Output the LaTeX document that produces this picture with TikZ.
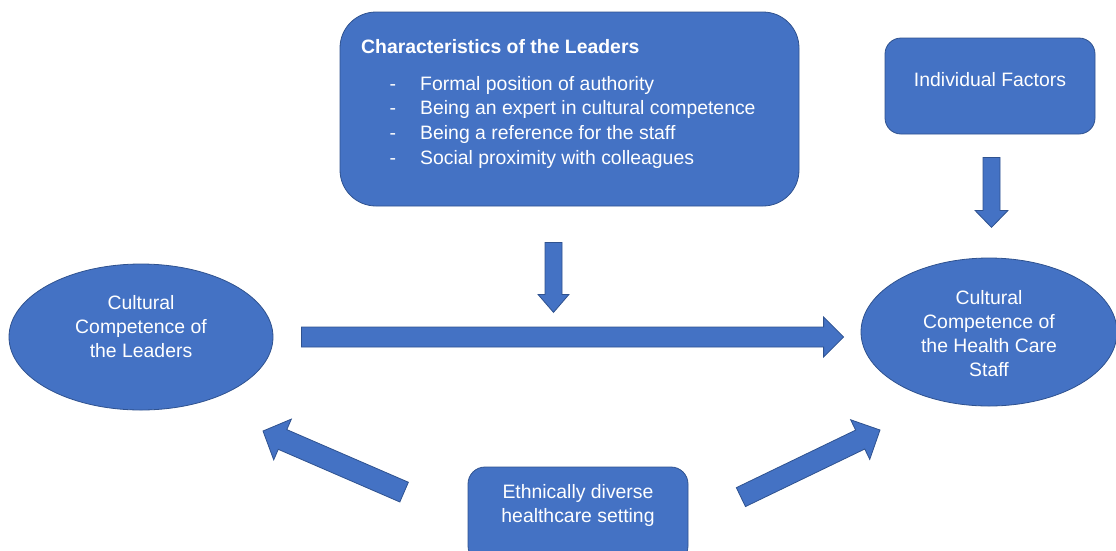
\documentclass[tikz,border=0pt]{standalone}
\usepackage{fontspec}
\setmainfont{Liberation Sans}
\usepackage{tikz}
\usetikzlibrary{calc,shapes.geometric}
\definecolor{boxblue}{HTML}{4472C4}
\definecolor{boxedge}{HTML}{2F528F}
% block arrow: start, tip, half shaft width, half head width, head length
\newcommand{\blockarrow}[5]{%
  \coordinate (ba-s) at (#1);
  \coordinate (ba-e) at (#2);
  \coordinate (ba-h) at ($(ba-e)!#5!(ba-s)$);
  \filldraw[box] ($(ba-s)!#3!90:(ba-e)$) -- ($(ba-h)!#3!90:(ba-e)$) -- ($(ba-h)!#4!90:(ba-e)$)
    -- (ba-e) -- ($(ba-h)!#4!-90:(ba-e)$) -- ($(ba-h)!#3!-90:(ba-e)$) -- ($(ba-s)!#3!-90:(ba-e)$) -- cycle;}

\begin{document}
\begin{tikzpicture}[x=1pt,y=1pt,
  box/.style={draw=boxedge,fill=boxblue,line width=0.8pt},
  boxtext/.style={text=white,inner sep=0pt,align=center,font=\fontsize{19.4pt}{24pt}\selectfont}]
\useasboundingbox (0,0) rectangle (1116,-550);
\clip (0,0) rectangle (1116,-550);

% leaders' characteristics
\node[box,rounded corners=36pt,minimum width=459pt,minimum height=194pt] (chars) at (569.5,-109) {};
\node[boxtext,anchor=base west,font=\fontsize{19.4pt}{24pt}\selectfont\bfseries] (charstitle) at (361,-53) {Characteristics of the Leaders};
\foreach \entry [count=\i] in {Formal position of authority,Being an expert in cultural competence,Being a reference for the staff,Social proximity with colleagues}
  \node[boxtext,anchor=base west] (entry\i) at (389.5,{-90-24.7*(\i-1)}) {\makebox[30.5pt][l]{-}\entry};

\node[box,rounded corners=16pt,minimum width=210pt,minimum height=96pt] (factors) at (990,-86) {};
\node[boxtext] (factorstext) at (990,-80) {Individual Factors};

\node[box,rounded corners=17pt,minimum width=220pt,minimum height=96pt] (setting) at (578,-515) {};
\node[boxtext] (settingtext) at (578,-505) {Ethnically diverse\\healthcare setting};

% the two competences
\node[box,ellipse,inner sep=0pt,minimum width=264pt,minimum height=146pt] (lead) at (141,-337) {};
\node[boxtext] (leadtext) at (141,-327) {Cultural\\Competence of\\the Leaders};
\node[box,ellipse,inner sep=0pt,minimum width=256pt,minimum height=148pt] (staff) at (989,-332) {};
\node[boxtext] (stafftext) at (989,-334) {Cultural\\Competence of\\the Health Care\\Staff};

% arrows
\blockarrow{$(lead.east)+(28,0)$}{$(lead.east -| staff.west)+(-17,0)$}{10pt}{20pt}{20pt}
\blockarrow{$(chars.south)+(-16,-36)$}{$(chars.south)+(-16,-106)$}{8.5pt}{15.5pt}{18pt}
\blockarrow{$(factors.south)+(1.5,-23)$}{$(factors.south)+(1.5,-93)$}{8.5pt}{16.5pt}{17pt}
\blockarrow{$(setting.north west)+(-63.5,-25.5)$}{$(lead)+(122,-94)$}{10.75pt}{22.2pt}{21.3pt}
\blockarrow{$(setting.north east)+(52.5,-30.5)$}{$(staff)+(-109,-98)$}{10.5pt}{22pt}{22pt}
\end{tikzpicture}
\end{document}
